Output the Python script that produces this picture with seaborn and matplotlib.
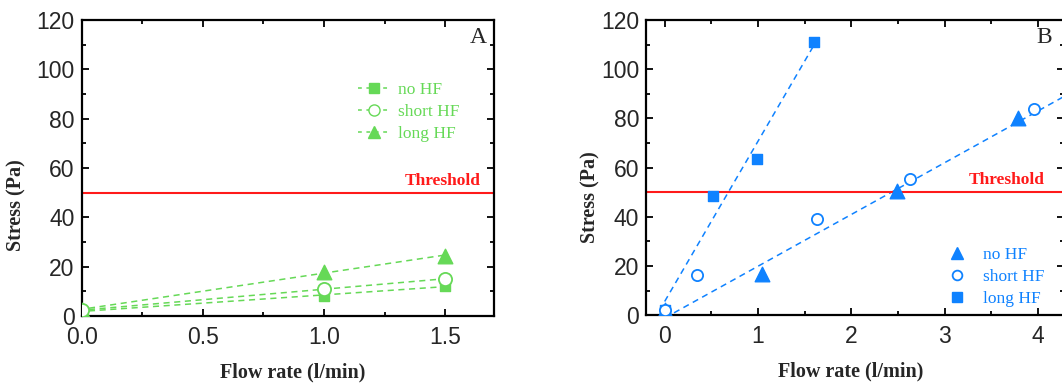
import numpy as np
import pandas as pd
import matplotlib
matplotlib.use("Agg")
import matplotlib.pyplot as plt
import seaborn as sns
from matplotlib.lines import Line2D
from matplotlib.ticker import MultipleLocator

sns.set_style("ticks")
plt.rcParams["font.family"] = ["Liberation Sans", "DejaVu Sans"]

GREEN = "#66d957"
BLUE = "#0f82ff"
RED = "#ff1a1a"
SERIF = ["Liberation Serif", "DejaVu Serif"]

# Panel A data (flow rate in l/min, stress in Pa)
a_no_x = [0.0, 1.0, 1.5]
a_no_y = [2.0, 8.1, 12.2]
a_short_x = [0.0, 1.0, 1.5]
a_short_y = [2.3, 11.0, 15.0]
a_long_x = [0.0, 1.0, 1.5]
a_long_y = [2.5, 18.0, 24.3]

# Panel B data
b_no_x = [0.0, 1.04, 2.49, 3.79]
b_no_y = [2.0, 16.8, 50.4, 80.2]
b_short_x = [0.0, 0.35, 1.63, 2.63, 3.96]
b_short_y = [2.0, 16.4, 39.2, 55.2, 83.6]
b_long_x = [0.0, 0.52, 0.99, 1.60]
b_long_y = [2.0, 48.5, 63.4, 110.9]

threshold = 50

fig = plt.figure(figsize=(10.62, 3.83), dpi=100)
axA = fig.add_axes([0.0769, 0.175, 0.388, 0.773])
axB = fig.add_axes([0.6083, 0.177, 0.3936, 0.771])


def style_axis(ax, xmaj, xmin, xlab, ylab):
    ax.xaxis.set_major_locator(MultipleLocator(xmaj))
    ax.xaxis.set_minor_locator(MultipleLocator(xmin))
    ax.yaxis.set_major_locator(MultipleLocator(20))
    ax.yaxis.set_minor_locator(MultipleLocator(10))
    ax.tick_params(which="both", direction="in", top=True, right=True,
                   color="black", width=1.3)
    ax.tick_params(which="major", length=5, labelsize=16.5)
    ax.tick_params(axis="x", which="major", pad=7)
    ax.tick_params(axis="y", which="major", pad=5)
    ax.tick_params(which="minor", length=3)
    for s in ax.spines.values():
        s.set_visible(True)
        s.set_linewidth(1.6)
        s.set_color("black")
    ax.set_xlabel("Flow rate (l/min)", family=SERIF, fontweight="bold",
                  fontsize=14.5)
    ax.set_ylabel("Stress (Pa)", family=SERIF, fontweight="bold",
                  fontsize=14.5)
    ax.xaxis.set_label_coords(*xlab)
    ax.yaxis.set_label_coords(*ylab)


def fit_line(ax, x, y, color, xr):
    slope, icpt = np.polyfit(x, y, 1)
    xs = np.array(xr)
    sns.lineplot(x=xs, y=slope * xs + icpt, ax=ax, color=color,
                 linestyle=(0, (4, 3)), linewidth=1.1, legend=False)


# ---- Panel A ----
axA.set_xlim(0, 1.7)
axA.set_ylim(0, 120)
for x, y in [(a_no_x, a_no_y), (a_short_x, a_short_y), (a_long_x, a_long_y)]:
    fit_line(axA, x, y, GREEN, [0.03, 1.5])
sns.scatterplot(x=a_no_x, y=a_no_y, ax=axA, marker="s", s=60, color=GREEN,
                edgecolor=GREEN, linewidth=1, zorder=3)
sns.scatterplot(x=a_short_x, y=a_short_y, ax=axA, marker="o", s=90,
                facecolor="white", edgecolor=GREEN, linewidth=1.3, zorder=4)
sns.scatterplot(x=a_long_x, y=a_long_y, ax=axA, marker="^", s=110,
                color=GREEN, edgecolor=GREEN, linewidth=1, zorder=3)
axA.axhline(threshold, color=RED, lw=1.5, zorder=2)
axA.text(0.969, 0.43, "Threshold", transform=axA.transAxes, color=RED,
         family=SERIF, fontweight="bold", fontsize=12.5, ha="right",
         va="bottom")
axA.text(0.983, 0.975, "A", transform=axA.transAxes, family=SERIF,
         fontsize=17, ha="right", va="top")
style_axis(axA, 0.5, 0.25, (0.513, -0.158), (-0.133, 0.375))

hA = [
    Line2D([], [], color=GREEN, ls=(0, (2.5, 3)), lw=1.1, marker="s",
           markersize=7, markerfacecolor=GREEN, markeredgecolor=GREEN),
    Line2D([], [], color=GREEN, ls=(0, (2.5, 3)), lw=1.1, marker="o",
           markersize=8, markerfacecolor="white", markeredgecolor=GREEN),
    Line2D([], [], color=GREEN, ls=(0, (2.5, 3)), lw=1.1, marker="^",
           markersize=9, markerfacecolor=GREEN, markeredgecolor=GREEN),
]
legA = axA.legend(hA, ["no HF", "short HF", "long HF"], loc="upper left",
                  bbox_to_anchor=(0.65, 0.82), frameon=False,
                  prop={"family": SERIF, "size": 12.5}, labelcolor=GREEN,
                  handlelength=1.8, handletextpad=0.5, labelspacing=0.35,
                  borderpad=0)

# ---- Panel B ----
axB.set_xlim(-0.2, 4.28)
axB.set_ylim(0, 120)
fit_line(axB, b_long_x, b_long_y, BLUE, [0.0, 1.6])
fit_line(axB, b_no_x, b_no_y, BLUE, [-0.2, 4.28])
sns.scatterplot(x=b_no_x, y=b_no_y, ax=axB, marker="^", s=110, color=BLUE,
                edgecolor=BLUE, linewidth=1, zorder=3)
sns.scatterplot(x=b_short_x, y=b_short_y, ax=axB, marker="o", s=65,
                facecolor="white", edgecolor=BLUE, linewidth=1.3, zorder=4)
sns.scatterplot(x=b_long_x, y=b_long_y, ax=axB, marker="s", s=60, color=BLUE,
                edgecolor=BLUE, linewidth=1, zorder=3)
axB.axhline(threshold, color=RED, lw=1.5, zorder=2)
axB.text(0.954, 0.43, "Threshold", transform=axB.transAxes, color=RED,
         family=SERIF, fontweight="bold", fontsize=12.5, ha="right",
         va="bottom")
axB.text(0.972, 0.975, "B", transform=axB.transAxes, family=SERIF,
         fontsize=17, ha="right", va="top")
style_axis(axB, 1, 0.5, (0.49, -0.158), (-0.110, 0.40))

hB = [
    Line2D([], [], ls="none", marker="^", markersize=9, color=BLUE),
    Line2D([], [], ls="none", marker="o", markersize=7,
           markerfacecolor="white", markeredgecolor=BLUE, markeredgewidth=1.3),
    Line2D([], [], ls="none", marker="s", markersize=7, color=BLUE),
]
legB = axB.legend(hB, ["no HF", "short HF", "long HF"], loc="lower left",
                  bbox_to_anchor=(0.703, -0.002), frameon=False,
                  prop={"family": SERIF, "size": 12.5}, labelcolor=BLUE,
                  handlelength=1.0, handletextpad=1.0, labelspacing=0.35,
                  borderpad=0)

fig.savefig("out.png", dpi=100)
